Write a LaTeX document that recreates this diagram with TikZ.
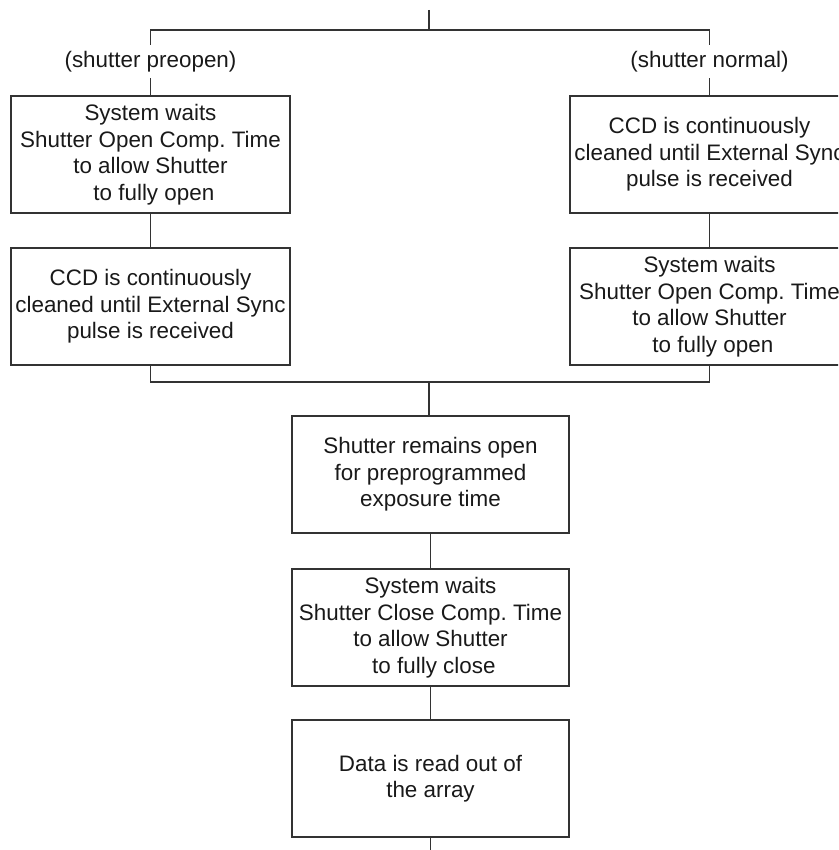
\documentclass[tikz,border=0pt]{standalone}
\usepackage{fontspec}
\setmainfont{Liberation Sans}
\frenchspacing
\definecolor{linegray}{gray}{0.2}
\definecolor{inkgray}{gray}{0.1}
\begin{document}
\begin{tikzpicture}[x=1pt,y=-1pt,
  every node/.style={font=\fontsize{22.4}{26.5}\selectfont, text=inkgray},
  stepbox/.style={draw=linegray, line width=1.1pt, minimum width=279pt,
    minimum height=117pt, inner sep=0pt, align=center},
  midbox/.style={stepbox, minimum width=277pt},
  branch/.style={inner xsep=2pt, inner ysep=5.5pt, text height=17pt, text depth=5pt},
  link/.style={draw=linegray, line width=1.1pt}]
\useasboundingbox (0,0) rectangle (838,850);
\clip (0,0) rectangle (838,850);

% branch labels
\node[branch] (labL) at (150.5,61.5) {(shutter preopen)};
\node[branch] (labR) at (709.5,61.5) {(shutter normal)};

% left branch: preopen
\node[stepbox] (L1) at (150.5,154.5) {System waits\\Shutter Open Comp. Time\\to allow Shutter\\\hspace{0.3em}to fully open};
\node[stepbox] (L2) at (150.5,306.5) {CCD is continuously\\cleaned until External Sync\\pulse is received};

% right branch: normal
\node[stepbox] (R1) at (709.5,154.5) {CCD is continuously\\cleaned until External Sync\\pulse is received};
\node[stepbox] (R2) at (709.5,306.5) {System waits\\Shutter Open Comp. Time\\to allow Shutter\\\hspace{0.3em}to fully open};

% common steps
\node[midbox] (C1) at (430.5,474.5) {Shutter remains open\\for preprogrammed\\exposure time};
\node[midbox] (C2) at (430.5,627.5) {System waits\\Shutter Close Comp. Time\\to allow Shutter\\\hspace{0.3em}to fully close};
\node[midbox] (C3) at (430.5,778.5) {Data is read out of\\the array};

% junctions and free ends
\coordinate (top) at (429,10);
\coordinate (topj) at (429,30);
\coordinate (botj) at (429,382);
\coordinate (bottom) at (430.5,850);

% connectors
\draw[link] (top) -- (topj);
\draw[link] (labL.north) |- (topj) -| (labR.north);
\draw[link] (labL.south) -- (L1.north);
\draw[link] (labR.south) -- (R1.north);
\draw[link] (L1) -- (L2);
\draw[link] (R1) -- (R2);
\draw[link] (L2.south) |- (botj) -| (R2.south);
\draw[link] (botj) -- (botj |- C1.north);
\draw[link] (C1) -- (C2);
\draw[link] (C2) -- (C3);
\draw[link] (C3.south) -- (bottom);
\end{tikzpicture}
\end{document}
